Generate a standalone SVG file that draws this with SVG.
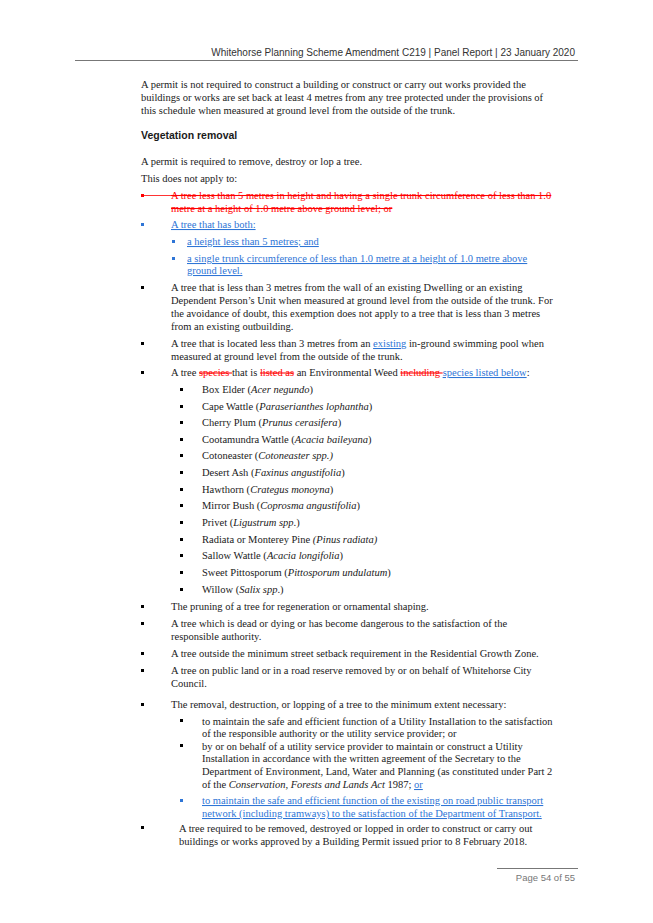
<svg xmlns="http://www.w3.org/2000/svg" width="653" height="923" viewBox="0 0 653 923">
<style>
text{font-family:"Liberation Serif","Times New Roman",serif;font-size:10.5px;fill:#1a1a1a}
.h{font-family:"Liberation Sans",Arial,sans-serif;font-size:10px;fill:#333}
.f{font-family:"Liberation Sans",Arial,sans-serif;font-size:9.5px;fill:#777}
.b{font-family:"Liberation Sans",Arial,sans-serif;font-weight:bold;font-size:10.5px}
.r{fill:#f00;text-decoration:line-through}
.u{fill:#2e75d6;text-decoration:underline}
.i{font-style:italic}
</style>
<rect width="653" height="923" fill="#fff"/>
<text class="h" x="575" y="56" text-anchor="end">Whitehorse Planning Scheme Amendment C219 | Panel Report | 23 January 2020</text>
<line x1="75" y1="60.5" x2="578" y2="60.5" stroke="#777" stroke-width="1.2"/>
<g id="body">
<text x="141" y="88">A permit is not required to construct a building or construct or carry out works provided the</text>
<text x="141" y="101">buildings or works are set back at least 4 metres from any tree protected under the provisions of</text>
<text x="141" y="114">this schedule when measured at ground level from the outside of the trunk.</text>
<text class="b" x="141" y="139">Vegetation removal</text>
<text x="141" y="165">A permit is required to remove, destroy or lop a tree.</text>
<text x="141" y="182">This does not apply to:</text>
</g>
<g id="bullets" fill="#000">
<rect x="141" y="194" width="3" height="3" fill="#f00"/>
<line x1="141" y1="195.5" x2="171" y2="195.5" stroke="#f00" stroke-width="0.8"/>
<rect x="141" y="223" width="3" height="3" fill="#2e75d6"/>
<rect x="172" y="240" width="3" height="3" fill="#2e75d6"/>
<rect x="172" y="257" width="3" height="3" fill="#2e75d6"/>
<rect x="141" y="286" width="3" height="3"/>
<rect x="141" y="342" width="3" height="3"/>
<rect x="141" y="371" width="3" height="3"/>
<rect x="180" y="388" width="3" height="3"/>
<rect x="180" y="405" width="3" height="3"/>
<rect x="180" y="421" width="3" height="3"/>
<rect x="180" y="438" width="3" height="3"/>
<rect x="180" y="454" width="3" height="3"/>
<rect x="180" y="471" width="3" height="3"/>
<rect x="180" y="488" width="3" height="3"/>
<rect x="180" y="504" width="3" height="3"/>
<rect x="180" y="521" width="3" height="3"/>
<rect x="180" y="538" width="3" height="3"/>
<rect x="180" y="554" width="3" height="3"/>
<rect x="180" y="571" width="3" height="3"/>
<rect x="180" y="588" width="3" height="3"/>
<rect x="141" y="605" width="3" height="3"/>
<rect x="141" y="622" width="3" height="3"/>
<rect x="141" y="652" width="3" height="3"/>
<rect x="141" y="669" width="3" height="3"/>
<rect x="141" y="703" width="3" height="3"/>
<rect x="180" y="719" width="3" height="3"/>
<rect x="180" y="744" width="3" height="3"/>
<rect x="180" y="799" width="3" height="3" fill="#2e75d6"/>
<rect x="141" y="826" width="3" height="3"/>
</g>
<g id="list">
<text class="r" x="171" y="198.5">A tree less than 5 metres in height and having a single trunk circumference of less than 1.0</text>
<text class="r" x="171" y="211.5">metre at a height of 1.0 metre above ground level; or</text>
<text class="u" x="171" y="228">A tree that has both:</text>
<text class="u" x="187" y="245"> a height less than 5 metres; and</text>
<text class="u" x="187" y="262">a single trunk circumference of less than 1.0 metre at a height of 1.0 metre above</text>
<text class="u" x="187" y="274">ground level.</text>
<text x="171" y="291">A tree that is less than 3 metres from the wall of an existing Dwelling or an existing</text>
<text x="171" y="304">Dependent Person’s Unit when measured at ground level from the outside of the trunk.  For</text>
<text x="171" y="317">the avoidance of doubt, this exemption does not apply to a tree that is less than 3 metres</text>
<text x="171" y="330">from an existing outbuilding.</text>
<text x="171" y="347">A tree that is located less than 3 metres from an <tspan class="u">existing</tspan> in-ground swimming pool when</text>
<text x="171" y="360">measured at ground level from the outside of the trunk.</text>
<text x="171" y="376">A tree <tspan class="r">species </tspan>that is <tspan class="r">listed as</tspan> an Environmental Weed <tspan class="r">including </tspan><tspan class="u">species listed below</tspan>:</text>
<text x="202" y="393">Box Elder (<tspan class="i">Acer negundo</tspan>)</text>
<text x="202" y="410">Cape Wattle (<tspan class="i">Paraserianthes lophantha</tspan>)</text>
<text x="202" y="426">Cherry Plum (<tspan class="i">Prunus cerasifera</tspan>)</text>
<text x="202" y="443">Cootamundra Wattle (<tspan class="i">Acacia baileyana</tspan>)</text>
<text x="202" y="459">Cotoneaster (<tspan class="i">Cotoneaster spp.)</tspan></text>
<text x="202" y="476">Desert Ash (<tspan class="i">Faxinus angustifolia</tspan>)</text>
<text x="202" y="493">Hawthorn (<tspan class="i">Crategus monoyna</tspan>)</text>
<text x="202" y="509">Mirror Bush (<tspan class="i">Coprosma angustifolia</tspan>)</text>
<text x="202" y="526">Privet (<tspan class="i">Ligustrum spp</tspan>.)</text>
<text x="202" y="543">Radiata or Monterey Pine <tspan class="i">(Pinus radiata)</tspan></text>
<text x="202" y="559">Sallow Wattle (<tspan class="i">Acacia longifolia</tspan>)</text>
<text x="202" y="576">Sweet Pittosporum (<tspan class="i">Pittosporum undulatum</tspan>)</text>
<text x="202" y="593">Willow (<tspan class="i">Salix spp</tspan>.)</text>
<text x="171" y="610">The pruning of a tree for regeneration or ornamental shaping.</text>
<text x="171" y="627">A tree which is dead or dying or has become dangerous to the satisfaction of the</text>
<text x="171" y="640">responsible authority.</text>
<text x="171" y="657">A tree outside the minimum street setback requirement in the Residential Growth Zone.</text>
<text x="171" y="674">A tree on public land or in a road reserve removed by or on behalf of Whitehorse City</text>
<text x="171" y="687">Council.</text>
<text x="171" y="708">The removal, destruction, or lopping of a tree to the minimum extent necessary:</text>
<text x="202" y="725">to maintain the safe and efficient function of a Utility Installation to the satisfaction</text>
<text x="202" y="737">of the responsible authority or the utility service provider; or</text>
<text x="202" y="750">by or on behalf of a utility service provider to maintain or construct a Utility</text>
<text x="202" y="762">Installation in accordance with the written agreement of the Secretary to the</text>
<text x="202" y="775">Department of Environment, Land, Water and Planning (as constituted under Part 2</text>
<text x="202" y="788">of the <tspan class="i">Conservation, Forests and Lands Act</tspan> 1987; <tspan class="u">or</tspan></text>
<text class="u" x="202" y="804">to maintain the safe and efficient function of the existing on road public transport</text>
<text class="u" x="202" y="817">network (including tramways) to the satisfaction of the Department of Transport.</text>
<text x="179" y="832">A tree required to be removed, destroyed or lopped in order to construct or carry out</text>
<text x="179" y="845">buildings or works approved by a Building Permit issued prior to 8 February 2018.</text>
</g>
<line x1="497" y1="868.5" x2="578" y2="868.5" stroke="#777" stroke-width="1"/>
<text class="f" x="575" y="881" text-anchor="end">Page 54 of 55</text>
</svg>
